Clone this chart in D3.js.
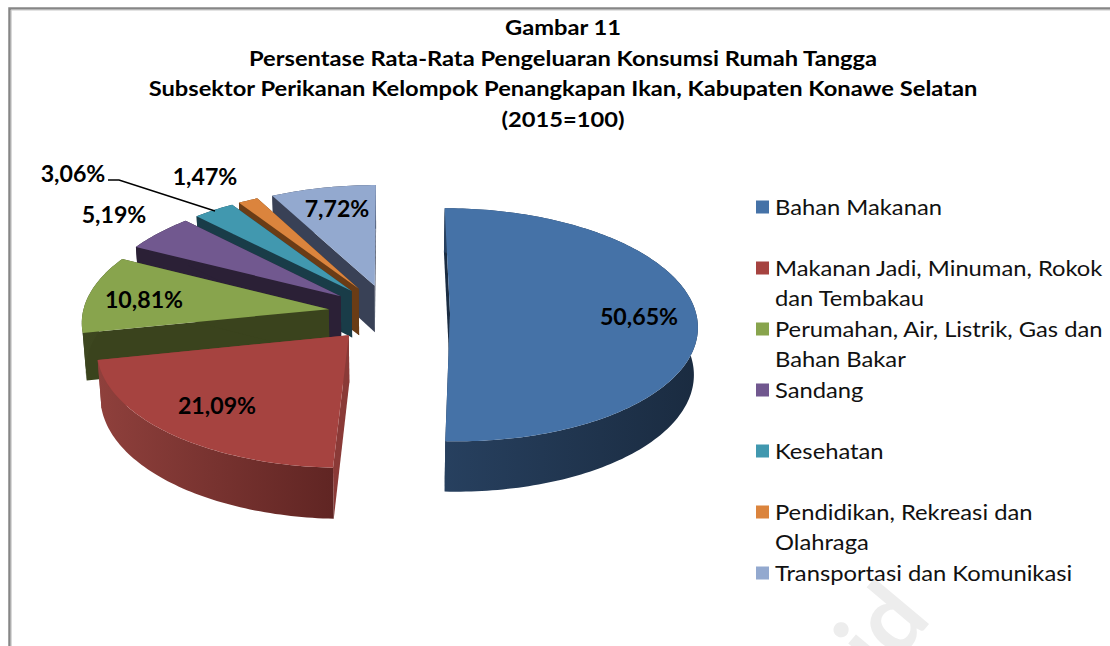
<!DOCTYPE html>
<html>
<head>
<meta charset="utf-8">
<script src="https://cdn.jsdelivr.net/npm/d3@7"></script>
<style>
  html, body { margin: 0; padding: 0; background: #fff; overflow: hidden; }
  text { font-family: Lato, Carlito, sans-serif; fill: #000; }
</style>
</head>
<body>
<div id="canvas"></div>
<script>
// chart values
var categories = ["Bahan Makanan", "Makanan Jadi, Minuman, Rokok dan Tembakau", "Perumahan, Air, Listrik, Gas dan Bahan Bakar",
                  "Sandang", "Kesehatan", "Pendidikan, Rekreasi dan Olahraga", "Transportasi dan Komunikasi"];
var values = [50.65, 21.09, 10.81, 5.19, 3.06, 1.47, 7.72];
var valueLabels = ["50,65%", "21,09%", "10,81%", "5,19%", "3,06%", "1,47%", "7,72%"];
var titleLines = ["Gambar 11", "Persentase Rata-Rata Pengeluaran Konsumsi Rumah Tangga",
                  "Subsektor Perikanan Kelompok Penangkapan Ikan, Kabupaten Konawe Selatan", "(2015=100)"];
var legendLines = [["Bahan Makanan"], ["Makanan Jadi, Minuman, Rokok", "dan Tembakau"], ["Perumahan, Air, Listrik, Gas dan", "Bahan Bakar"],
                   ["Sandang"], ["Kesehatan"], ["Pendidikan, Rekreasi dan", "Olahraga"], ["Transportasi dan Komunikasi"]];

// slice colours: top face, flat side walls, curved wall left and right end
var topColors = ["#4572a7", "#a64340", "#88a44d", "#71588f", "#4198af", "#db843d", "#93a9cf"];
var wallColors = ["#1a2c42", "#8a3a37", "#3a431d", "#2b2036", "#193c48", "#6a3c16", "#394156"];
var rimLeft = ["#27405f", "#8f403c", "#3d4720", "#2b2036", "#193c48", "#6a3c16", "#394156"];
var rimRight = ["#1a2b40", "#602523", "#3a431d", "#2b2036", "#193c48", "#6a3c16", "#394156"];

// where Excel put the data labels (centre of text)
var labelX = [639, 217, 144, 114, 73, 205, 337];
var labelY = [317, 406, 300, 215, 174, 177, 209];

// pie geometry
var width = 1110, height = 646;
var cx = 389, cy = 313;        // centre of the pie before exploding
var radius = 246;
var explode = 61;
var tilt = 0.469;              // vertical squash of the disc
var persp = 0.00039;           // how much nearer parts grow
var depth = 47;                // thickness of the pie
var bottomScale = 0.987;

// the reference text is wider than Lato at the same height
var titleStretch = 1.129;
var textStretch = 1.08;
var valueStretch = 1.03;

var svg = d3.select("#canvas")
    .append("svg")
    .attr("width", width)
    .attr("height", height)
    .style("display", "block");

var defs = svg.append("defs");

// frame of the chart, open at right and bottom
svg.append("path")
    .attr("d", "M9.5," + height + "V8.5H" + width)
    .attr("fill", "none")
    .attr("stroke", "#868686")
    .attr("stroke-width", 2.5);
svg.append("path")
    .attr("d", "M11.2," + height + "V10H" + width)
    .attr("fill", "none")
    .attr("stroke", "#c8c8c8")
    .attr("stroke-width", 1);

// faint watermark that runs off the bottom of the picture
svg.append("text")
    .attr("transform", "translate(882,680) rotate(-50)")
    .style("font-size", "96px")
    .style("font-weight", "700")
    .style("fill", "#ededed")
    .text("id");

// title
svg.selectAll(".title")
    .data(titleLines)
    .enter()
    .append("text")
    .attr("class", "title")
    .attr("transform", function(d, i) {
        return "translate(563," + (35 + i * 30.5) + ") scale(" + titleStretch + ",1)";
    })
    .attr("text-anchor", "middle")
    .style("font-size", "21px")
    .style("font-weight", "700")
    .text(function(d) { return d; });

var colorScale = d3.scaleOrdinal().domain(categories).range(topColors);

// clockwise from the top, in the order of the data
var slices = d3.pie().sort(null)(values);

// projects a point of the disc on the screen; low says top or bottom plane
function project(X, Y, low) {
    var s = 1 / (1 + persp * Y);
    var f = low ? bottomScale : 1;
    return [cx + X * s * f, cy - tilt * Y * s * f + (low ? depth * s : 0)];
}

// disc coordinates of a slice point, r is 0 at the apex and 1 on the rim
function discPoint(d, angle, r) {
    var mid = (d.startAngle + d.endAngle) / 2;
    return [explode * Math.sin(mid) + r * radius * Math.sin(angle),
            explode * Math.cos(mid) + r * radius * Math.cos(angle)];
}

function point(d, angle, r, low) {
    var p = discPoint(d, angle, r);
    return project(p[0], p[1], low);
}

function rimAngles(d) {
    var n = Math.ceil((d.endAngle - d.startAngle) / 0.02);
    return d3.range(n + 1).map(function(i) {
        return d.startAngle + (d.endAngle - d.startAngle) * i / n;
    });
}

var line = d3.line();

// back slices first, so order is from transport round to food
var order = [6, 5, 4, 3, 2, 1, 0];

order.forEach(function(idx) {
    var d = slices[idx];
    var g = svg.append("g").attr("class", "slice");
    var angles = rimAngles(d);

    // flat walls along both cuts
    [d.startAngle, d.endAngle].forEach(function(a) {
        g.append("path")
            .attr("d", line([point(d, a, 0, false), point(d, a, 1, false), point(d, a, 1, true), point(d, a, 0, true)]) + "Z")
            .attr("fill", wallColors[idx]);
    });

    // curved wall, shaded from left to right
    var grad = defs.append("linearGradient")
        .attr("id", "rim" + idx);
    grad.append("stop").attr("offset", "0%").attr("stop-color", rimLeft[idx]);
    grad.append("stop").attr("offset", "100%").attr("stop-color", rimRight[idx]);

    var upper = angles.map(function(a) { return point(d, a, 1, false); });
    var lower = angles.map(function(a) { return point(d, a, 1, true); }).reverse();
    g.append("path")
        .attr("d", line(upper.concat(lower)) + "Z")
        .attr("fill", "url(#rim" + idx + ")");

    // top face
    g.append("path")
        .attr("d", line([point(d, d.startAngle, 0, false)].concat(upper)) + "Z")
        .attr("fill", colorScale(categories[idx]));
});

// leader line of the Kesehatan label
svg.append("path")
    .attr("d", line([[108, 180], [119, 180], [215, 211]]))
    .attr("fill", "none")
    .attr("stroke", "#000")
    .attr("stroke-width", 1.5);

// data labels
svg.selectAll(".value")
    .data(valueLabels)
    .enter()
    .append("text")
    .attr("class", "value")
    .attr("transform", function(d, i) {
        return "translate(" + labelX[i] + "," + labelY[i] + ") scale(" + valueStretch + ",1)";
    })
    .attr("text-anchor", "middle")
    .attr("dy", "0.36em")
    .style("font-size", "22.5px")
    .style("font-weight", "700")
    .text(function(d) { return d; });

// legend, entries sit two rows apart and a row is 30.5 high
var legendY = 207;
var legend = svg.append("g").attr("class", "legend");
legendLines.forEach(function(lines, i) {
    legend.append("rect")
        .attr("x", 756)
        .attr("y", legendY - 6.5)
        .attr("width", 13)
        .attr("height", 13)
        .attr("fill", topColors[i]);
    lines.forEach(function(t, j) {
        legend.append("text")
            .attr("transform", "translate(775," + (legendY + j * 30.5) + ") scale(" + textStretch + ",1)")
            .attr("dy", "0.36em")
            .style("font-size", "22px")
            .style("fill", "#111")
            .text(t);
    });
    legendY += 61;
});
</script>
</body>
</html>
